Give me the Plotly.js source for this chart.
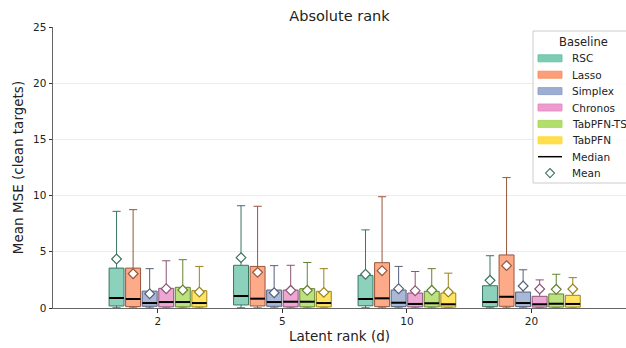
<!DOCTYPE html>
<html><head><meta charset="utf-8">
<script src="https://cdn.plot.ly/plotly-3.0.1.min.js"></script>
<style>html,body{margin:0;padding:0;background:#fff}#chart{width:626px;height:348px}</style>
</head><body><div id="chart"></div>
<script>
const ranks = ['2', '5', '10', '20'];
const baselines = ['RSC', 'Lasso', 'Simplex', 'Chronos', 'TabPFN-TS', 'TabPFN'];
const fillColors = ['#66c2a5', '#fc8d62', '#8da0cb', '#e78ac3', '#a6d854', '#ffd92f'];
const edgeColors = ['#3d7463', '#97553b', '#55607a', '#8b5375', '#648232', '#99821c'];

// per baseline, values for ranks 2,5,10,20
const upperWhisker = {
  'RSC':       [8.6, 9.1, 6.95, 4.65],
  'Lasso':     [8.75, 9.05, 9.9, 11.6],
  'Simplex':   [3.5, 3.77, 3.7, 3.4],
  'Chronos':   [4.2, 3.8, 3.25, 2.5],
  'TabPFN-TS': [4.3, 4.05, 3.5, 3.0],
  'TabPFN':    [3.7, 3.5, 3.1, 2.7]
};
const q3 = {
  'RSC':       [3.55, 3.8, 2.9, 1.98],
  'Lasso':     [3.55, 3.7, 4.03, 4.72],
  'Simplex':   [1.5, 1.6, 1.6, 1.42],
  'Chronos':   [1.75, 1.6, 1.33, 1.04],
  'TabPFN-TS': [1.84, 1.72, 1.48, 1.25],
  'TabPFN':    [1.54, 1.48, 1.33, 1.13]
};
const medians = {
  'RSC':       [0.89, 1.07, 0.8, 0.53],
  'Lasso':     [0.8, 0.83, 0.86, 1.0],
  'Simplex':   [0.44, 0.53, 0.47, 0.44],
  'Chronos':   [0.53, 0.56, 0.36, 0.33],
  'TabPFN-TS': [0.53, 0.56, 0.42, 0.38],
  'TabPFN':    [0.44, 0.44, 0.33, 0.36]
};
const q1 = {
  'RSC':       [0.18, 0.27, 0.2, 0.12],
  'Lasso':     [0.12, 0.18, 0.12, 0.15],
  'Simplex':   [0.15, 0.15, 0.12, 0.12],
  'Chronos':   [0.1, 0.1, 0.1, 0.08],
  'TabPFN-TS': [0.1, 0.1, 0.1, 0.08],
  'TabPFN':    [0.1, 0.1, 0.08, 0.08]
};
const lowerWhisker = {
  'RSC':       [0.02, 0.02, 0.02, 0.02],
  'Lasso':     [0.01, 0.01, 0.01, 0.01],
  'Simplex':   [0.01, 0.01, 0.01, 0.01],
  'Chronos':   [0.01, 0.01, 0.01, 0.01],
  'TabPFN-TS': [0.01, 0.01, 0.01, 0.01],
  'TabPFN':    [0.01, 0.01, 0.01, 0.01]
};
const means = {
  'RSC':       [4.36, 4.48, 3.0, 2.46],
  'Lasso':     [3.05, 3.17, 3.32, 3.77],
  'Simplex':   [1.27, 1.36, 1.72, 1.96],
  'Chronos':   [1.72, 1.57, 1.54, 1.69],
  'TabPFN-TS': [1.6, 1.57, 1.57, 1.66],
  'TabPFN':    [1.42, 1.39, 1.42, 1.69]
};
const legendTitle = 'Baseline';
const legendExtra = ['Median', 'Mean'];

const step = 0.133, boxW = 0.12;
function hexA(h, a) {
  const r = parseInt(h.slice(1,3),16), g = parseInt(h.slice(3,5),16), b = parseInt(h.slice(5,7),16);
  return `rgba(${r},${g},${b},${a})`;
}
const traces = [];
baselines.forEach((b, i) => {
  const xs = ranks.map((_, g) => g + (i - 2.5) * step);
  traces.push({
    type: 'box', name: b, x: xs,
    q1: q1[b], median: medians[b], q3: q3[b],
    lowerfence: lowerWhisker[b], upperfence: upperWhisker[b],
    width: boxW, whiskerwidth: 0.55,
    fillcolor: hexA(fillColors[i], 0.75),
    line: {color: edgeColors[i], width: 1},
    boxpoints: false, hoverinfo: 'skip', showlegend: false
  });
});
baselines.forEach((b, i) => {
  const xs = ranks.map((_, g) => g + (i - 2.5) * step);
  traces.push({
    type: 'scatter', mode: 'markers', x: xs, y: medians[b], showlegend: false,
    marker: {symbol: 'line-ew', size: 10.5, line: {color: '#000', width: 2}}, hoverinfo: 'skip'
  });
  traces.push({
    type: 'scatter', mode: 'markers', x: xs, y: means[b], showlegend: false,
    marker: {symbol: 'diamond', size: 7.5, color: '#fff', line: {color: edgeColors[i], width: 1.2}}, hoverinfo: 'skip'
  });
});

// custom legend (paper coordinates), matching matplotlib spacing
const L = 53, T = 27, W = 573, H = 281;
const px = x => (x - L) / W;
const py = y => (T + H - y) / H;
const shapes = [];
const annotations = [];
shapes.push({type: 'rect', xref: 'paper', yref: 'paper', x0: px(533), x1: px(640), y0: py(31), y1: py(183),
  line: {color: '#cccccc', width: 1}, fillcolor: 'rgba(255,255,255,0.85)', layer: 'above'});
annotations.push({xref: 'paper', yref: 'paper', x: px(583), y: py(42), text: legendTitle, showarrow: false,
  xanchor: 'center', yanchor: 'middle', font: {size: 11.5, color: '#222'}});
const rowY = k => 58.3 + k * 16.4;
baselines.forEach((b, i) => {
  shapes.push({type: 'rect', xref: 'paper', yref: 'paper', x0: px(538), x1: px(562), y0: py(rowY(i) - 3.5), y1: py(rowY(i) + 3.5),
    line: {color: hexA(fillColors[i], 0.9), width: 1}, fillcolor: hexA(fillColors[i], 0.85), layer: 'above'});
  annotations.push({xref: 'paper', yref: 'paper', x: px(570), y: py(rowY(i)), text: b, showarrow: false,
    xanchor: 'left', yanchor: 'middle', font: {size: 10.5, color: '#222'}});
});
shapes.push({type: 'line', xref: 'paper', yref: 'paper', x0: px(538), x1: px(562), y0: py(rowY(6)), y1: py(rowY(6)),
  line: {color: '#000', width: 1.5}, layer: 'above'});
annotations.push({xref: 'paper', yref: 'paper', x: px(570), y: py(rowY(6)), text: legendExtra[0], showarrow: false,
  xanchor: 'left', yanchor: 'middle', font: {size: 10.5, color: '#222'}});
shapes.push({type: 'path', xref: 'paper', yref: 'paper', xsizemode: 'pixel', ysizemode: 'pixel',
  xanchor: px(550), yanchor: py(rowY(7)), path: 'M -4.5,0 L 0,4.5 L 4.5,0 L 0,-4.5 Z',
  line: {color: '#3d7463', width: 1.1}, fillcolor: '#fff', layer: 'above'});
annotations.push({xref: 'paper', yref: 'paper', x: px(570), y: py(rowY(7)), text: legendExtra[1], showarrow: false,
  xanchor: 'left', yanchor: 'middle', font: {size: 10.5, color: '#222'}});

const layout = {
  width: 626, height: 348,
  margin: {l: 53, r: 0, t: 27, b: 40},
  paper_bgcolor: '#fff', plot_bgcolor: '#fff',
  font: {family: 'DejaVu Sans', color: '#222', size: 10},
  title: {text: 'Absolute rank', font: {size: 14.5}, x: 0.5, xref: 'paper', y: 0.955, yanchor: 'middle'},
  showlegend: false,
  xaxis: {
    range: [-0.843, 3.76], tickvals: [0, 1, 2, 3], ticktext: ranks,
    showgrid: false, zeroline: false, showline: true, linecolor: '#666', linewidth: 1,
    ticks: 'outside', ticklen: 3.5, tickcolor: '#333',
    title: {text: 'Latent rank (d)', font: {size: 13.5}, standoff: 5},
    tickfont: {size: 10.5}
  },
  yaxis: {
    range: [0, 25], dtick: 5, showgrid: true, gridcolor: '#ececec', gridwidth: 1,
    zeroline: false, showline: true, linecolor: '#666', linewidth: 1,
    ticks: 'outside', ticklen: 3.5, tickcolor: '#333',
    title: {text: 'Mean MSE (clean targets)', font: {size: 13.5}, standoff: 6},
    tickfont: {size: 10.5}
  },
  shapes: shapes,
  annotations: annotations
};
Plotly.newPlot('chart', traces, layout, {displayModeBar: false, staticPlot: true});
</script></body></html>
